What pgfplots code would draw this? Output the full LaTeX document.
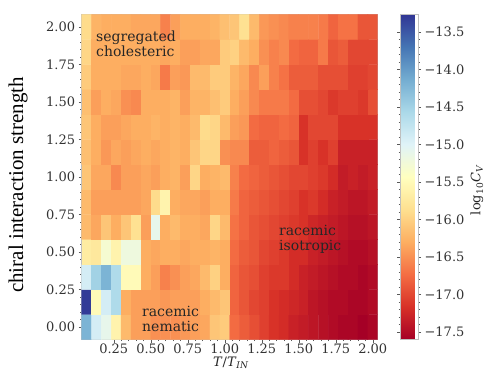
\documentclass[border=0pt]{standalone}
\usepackage{pgfplots}
\pgfplotsset{compat=1.18}
\usepackage{fontspec}
\setmainfont{DejaVu Serif}
\newfontfamily\timesfont{Liberation Serif}
\pgfplotsset{colormap={rdylbu}{rgb255=(165,0,38) rgb255=(215,48,39) rgb255=(244,109,67) rgb255=(253,174,97) rgb255=(254,224,144) rgb255=(255,255,191) rgb255=(224,243,248) rgb255=(171,217,233) rgb255=(116,173,209) rgb255=(69,117,180) rgb255=(49,54,149)}}
\begin{document}
\begin{tikzpicture}[x=1pt,y=1pt]
\path (0,0) rectangle (485,370);
\begin{axis}[
  at={(81.7pt,30.5pt)}, anchor=south west,
  scale only axis, width=296pt, height=325pt,
  xmin=0.03333, xmax=2.03333, ymin=-0.08333, ymax=2.08333,
  xtick={0.25,0.5,0.75,1,1.25,1.5,1.75,2},
  xticklabels={0.25,0.50,0.75,1.00,1.25,1.50,1.75,2.00},
  ytick={0,0.25,0.5,0.75,1,1.25,1.5,1.75,2},
  yticklabels={0.00,0.25,0.50,0.75,1.00,1.25,1.50,1.75,2.00},
  minor x tick num=4, minor y tick num=4,
  tick align=outside, major tick length=3pt, minor tick length=1.5pt,
  tick style={gray!70!black, line width=0.4pt},
  axis line style={gray!50, line width=0.5pt},
  xtick pos=bottom, ytick pos=left,
  ticklabel style={font=\fontsize{13}{15}\selectfont, text=black!80},
  xticklabel style={yshift=2pt},
  colormap name=rdylbu,
  point meta min=-17.6, point meta max=-13.27,
  colorbar,
  colorbar style={
    at={(parent axis.north east)}, anchor=north west, xshift=13.8pt,
    scale only axis, width=18pt, height=325pt,
    ytick={-17.5,-17,-16.5,-16,-15.5,-15,-14.5,-14,-13.5},
    yticklabels={−17.5,−17.0,−16.5,−16.0,−15.5,−15.0,−14.5,−14.0,−13.5},
    yticklabel pos=right,
    tick align=outside, major tick length=3pt,
    minor y tick num=4, minor tick length=1.5pt,
    tick style={gray!70!black, line width=0.4pt},
    axis line style={gray!50},
    ticklabel style={font=\fontsize{13}{15}\selectfont, text=black!80},
  },
]
\addplot[matrix plot*, mesh/cols=30, point meta=explicit] table[row sep=\\, meta=z] {
x y z\\
0.0667 0 -14.2\\ 0.1333 0 -14.9\\ 0.2 0 -15.1\\ 0.2667 0 -15.6\\ 0.3333 0 -16.2\\ 0.4 0 -16.4\\ 0.4667 0 -16.4\\ 0.5333 0 -16.5\\ 0.6 0 -16.5\\ 0.6667 0 -16.5\\
0.7333 0 -16.45\\ 0.8 0 -16.4\\ 0.8667 0 -16.35\\ 0.9333 0 -16.1\\ 1.0 0 -16.05\\ 1.0667 0 -16.75\\ 1.1333 0 -16.85\\ 1.2 0 -16.95\\ 1.2667 0 -17.05\\ 1.3333 0 -17.15\\
1.4 0 -17.2\\ 1.4667 0 -17.3\\ 1.5333 0 -17.35\\ 1.6 0 -17.4\\ 1.6667 0 -17.45\\ 1.7333 0 -17.5\\ 1.8 0 -17.55\\ 1.8667 0 -17.55\\ 1.9333 0 -17.6\\ 2.0 0 -17.55\\
0.0667 0.1667 -13.3\\ 0.1333 0.1667 -15.5\\ 0.2 0.1667 -14.9\\ 0.2667 0.1667 -14.6\\ 0.3333 0.1667 -16.3\\ 0.4 0.1667 -16.4\\ 0.4667 0.1667 -16.4\\ 0.5333 0.1667 -16.4\\ 0.6 0.1667 -16.45\\ 0.6667 0.1667 -16.4\\
0.7333 0.1667 -16.4\\ 0.8 0.1667 -16.4\\ 0.8667 0.1667 -16.3\\ 0.9333 0.1667 -16.2\\ 1.0 0.1667 -16.1\\ 1.0667 0.1667 -16.8\\ 1.1333 0.1667 -16.9\\ 1.2 0.1667 -17.0\\ 1.2667 0.1667 -17.05\\ 1.3333 0.1667 -17.15\\
1.4 0.1667 -17.2\\ 1.4667 0.1667 -17.25\\ 1.5333 0.1667 -17.3\\ 1.6 0.1667 -17.4\\ 1.6667 0.1667 -17.45\\ 1.7333 0.1667 -17.5\\ 1.8 0.1667 -17.5\\ 1.8667 0.1667 -17.55\\ 1.9333 0.1667 -17.55\\ 2.0 0.1667 -17.5\\
0.0667 0.3333 -14.9\\ 0.1333 0.3333 -14.5\\ 0.2 0.3333 -14.2\\ 0.2667 0.3333 -14.6\\ 0.3333 0.3333 -15.5\\ 0.4 0.3333 -15.5\\ 0.4667 0.3333 -16.3\\ 0.5333 0.3333 -16.4\\ 0.6 0.3333 -16.6\\ 0.6667 0.3333 -16.5\\
0.7333 0.3333 -16.4\\ 0.8 0.3333 -16.35\\ 0.8667 0.3333 -16.2\\ 0.9333 0.3333 -16.0\\ 1.0 0.3333 -16.3\\ 1.0667 0.3333 -16.8\\ 1.1333 0.3333 -16.9\\ 1.2 0.3333 -16.95\\ 1.2667 0.3333 -17.05\\ 1.3333 0.3333 -17.1\\
1.4 0.3333 -17.1\\ 1.4667 0.3333 -17.2\\ 1.5333 0.3333 -17.3\\ 1.6 0.3333 -17.35\\ 1.6667 0.3333 -17.4\\ 1.7333 0.3333 -17.45\\ 1.8 0.3333 -17.5\\ 1.8667 0.3333 -17.5\\ 1.9333 0.3333 -17.55\\ 2.0 0.3333 -17.5\\
0.0667 0.5 -15.7\\ 0.1333 0.5 -15.75\\ 0.2 0.5 -15.3\\ 0.2667 0.5 -15.6\\ 0.3333 0.5 -15.2\\ 0.4 0.5 -15.2\\ 0.4667 0.5 -16.3\\ 0.5333 0.5 -16.35\\ 0.6 0.5 -16.3\\ 0.6667 0.5 -16.3\\
0.7333 0.5 -16.35\\ 0.8 0.5 -16.3\\ 0.8667 0.5 -16.3\\ 0.9333 0.5 -16.25\\ 1.0 0.5 -16.3\\ 1.0667 0.5 -16.75\\ 1.1333 0.5 -16.85\\ 1.2 0.5 -16.9\\ 1.2667 0.5 -17.0\\ 1.3333 0.5 -17.05\\
1.4 0.5 -17.1\\ 1.4667 0.5 -17.2\\ 1.5333 0.5 -17.2\\ 1.6 0.5 -17.3\\ 1.6667 0.5 -17.35\\ 1.7333 0.5 -17.4\\ 1.8 0.5 -17.45\\ 1.8667 0.5 -17.5\\ 1.9333 0.5 -17.5\\ 2.0 0.5 -17.45\\
0.0667 0.6667 -16.2\\ 0.1333 0.6667 -16.35\\ 0.2 0.6667 -16.1\\ 0.2667 0.6667 -16.3\\ 0.3333 0.6667 -16.1\\ 0.4 0.6667 -15.85\\ 0.4667 0.6667 -16.4\\ 0.5333 0.6667 -15.1\\ 0.6 0.6667 -16.3\\ 0.6667 0.6667 -16.2\\
0.7333 0.6667 -16.3\\ 0.8 0.6667 -16.3\\ 0.8667 0.6667 -16.35\\ 0.9333 0.6667 -15.95\\ 1.0 0.6667 -16.2\\ 1.0667 0.6667 -16.7\\ 1.1333 0.6667 -16.8\\ 1.2 0.6667 -16.9\\ 1.2667 0.6667 -16.95\\ 1.3333 0.6667 -17.0\\
1.4 0.6667 -17.05\\ 1.4667 0.6667 -17.1\\ 1.5333 0.6667 -17.15\\ 1.6 0.6667 -17.25\\ 1.6667 0.6667 -17.3\\ 1.7333 0.6667 -17.35\\ 1.8 0.6667 -17.4\\ 1.8667 0.6667 -17.45\\ 1.9333 0.6667 -17.45\\ 2.0 0.6667 -17.4\\
0.0667 0.8333 -16.2\\ 0.1333 0.8333 -16.4\\ 0.2 0.8333 -16.4\\ 0.2667 0.8333 -16.4\\ 0.3333 0.8333 -16.4\\ 0.4 0.8333 -16.4\\ 0.4667 0.8333 -16.35\\ 0.5333 0.8333 -15.9\\ 0.6 0.8333 -15.6\\ 0.6667 0.8333 -16.3\\
0.7333 0.8333 -16.35\\ 0.8 0.8333 -16.35\\ 0.8667 0.8333 -16.4\\ 0.9333 0.8333 -16.3\\ 1.0 0.8333 -16.3\\ 1.0667 0.8333 -16.65\\ 1.1333 0.8333 -16.8\\ 1.2 0.8333 -16.85\\ 1.2667 0.8333 -16.9\\ 1.3333 0.8333 -16.95\\
1.4 0.8333 -17.0\\ 1.4667 0.8333 -17.05\\ 1.5333 0.8333 -17.15\\ 1.6 0.8333 -17.1\\ 1.6667 0.8333 -17.2\\ 1.7333 0.8333 -17.3\\ 1.8 0.8333 -17.35\\ 1.8667 0.8333 -17.4\\ 1.9333 0.8333 -17.4\\ 2.0 0.8333 -17.35\\
0.0667 1.0 -16.1\\ 0.1333 1.0 -16.35\\ 0.2 1.0 -16.35\\ 0.2667 1.0 -16.55\\ 0.3333 1.0 -16.4\\ 0.4 1.0 -16.4\\ 0.4667 1.0 -16.35\\ 0.5333 1.0 -16.4\\ 0.6 1.0 -16.3\\ 0.6667 1.0 -16.25\\
0.7333 1.0 -16.4\\ 0.8 1.0 -15.95\\ 0.8667 1.0 -16.3\\ 0.9333 1.0 -16.25\\ 1.0 1.0 -16.2\\ 1.0667 1.0 -16.6\\ 1.1333 1.0 -16.75\\ 1.2 1.0 -16.8\\ 1.2667 1.0 -16.85\\ 1.3333 1.0 -16.9\\
1.4 1.0 -16.95\\ 1.4667 1.0 -17.0\\ 1.5333 1.0 -17.0\\ 1.6 1.0 -17.05\\ 1.6667 1.0 -17.1\\ 1.7333 1.0 -17.2\\ 1.8 1.0 -17.35\\ 1.8667 1.0 -17.3\\ 1.9333 1.0 -17.35\\ 2.0 1.0 -17.3\\
0.0667 1.1667 -16.15\\ 0.1333 1.1667 -16.3\\ 0.2 1.1667 -16.45\\ 0.2667 1.1667 -16.35\\ 0.3333 1.1667 -16.4\\ 0.4 1.1667 -16.35\\ 0.4667 1.1667 -16.3\\ 0.5333 1.1667 -16.35\\ 0.6 1.1667 -16.3\\ 0.6667 1.1667 -16.25\\
0.7333 1.1667 -16.3\\ 0.8 1.1667 -16.1\\ 0.8667 1.1667 -15.95\\ 0.9333 1.1667 -15.95\\ 1.0 1.1667 -16.5\\ 1.0667 1.1667 -16.55\\ 1.1333 1.1667 -16.55\\ 1.2 1.1667 -16.85\\ 1.2667 1.1667 -16.85\\ 1.3333 1.1667 -16.8\\
1.4 1.1667 -16.85\\ 1.4667 1.1667 -16.9\\ 1.5333 1.1667 -17.15\\ 1.6 1.1667 -17.05\\ 1.6667 1.1667 -17.15\\ 1.7333 1.1667 -17.05\\ 1.8 1.1667 -17.3\\ 1.8667 1.1667 -17.3\\ 1.9333 1.1667 -17.3\\ 2.0 1.1667 -17.3\\
0.0667 1.3333 -16.1\\ 0.1333 1.3333 -16.3\\ 0.2 1.3333 -16.4\\ 0.2667 1.3333 -16.4\\ 0.3333 1.3333 -16.35\\ 0.4 1.3333 -16.3\\ 0.4667 1.3333 -16.3\\ 0.5333 1.3333 -16.25\\ 0.6 1.3333 -16.3\\ 0.6667 1.3333 -16.25\\
0.7333 1.3333 -16.3\\ 0.8 1.3333 -16.2\\ 0.8667 1.3333 -15.9\\ 0.9333 1.3333 -15.95\\ 1.0 1.3333 -16.2\\ 1.0667 1.3333 -16.4\\ 1.1333 1.3333 -16.45\\ 1.2 1.3333 -16.75\\ 1.2667 1.3333 -16.8\\ 1.3333 1.3333 -16.8\\
1.4 1.3333 -16.75\\ 1.4667 1.3333 -16.8\\ 1.5333 1.3333 -17.15\\ 1.6 1.3333 -17.0\\ 1.6667 1.3333 -17.0\\ 1.7333 1.3333 -17.0\\ 1.8 1.3333 -17.15\\ 1.8667 1.3333 -17.15\\ 1.9333 1.3333 -17.15\\ 2.0 1.3333 -17.15\\
0.0667 1.5 -16.15\\ 0.1333 1.5 -16.4\\ 0.2 1.5 -16.3\\ 0.2667 1.5 -16.35\\ 0.3333 1.5 -16.5\\ 0.4 1.5 -16.55\\ 0.4667 1.5 -16.3\\ 0.5333 1.5 -16.3\\ 0.6 1.5 -16.3\\ 0.6667 1.5 -16.25\\
0.7333 1.5 -16.4\\ 0.8 1.5 -16.25\\ 0.8667 1.5 -16.25\\ 0.9333 1.5 -16.15\\ 1.0 1.5 -16.05\\ 1.0667 1.5 -16.3\\ 1.1333 1.5 -16.4\\ 1.2 1.5 -16.55\\ 1.2667 1.5 -16.65\\ 1.3333 1.5 -16.65\\
1.4 1.5 -16.65\\ 1.4667 1.5 -16.75\\ 1.5333 1.5 -16.95\\ 1.6 1.5 -16.95\\ 1.6667 1.5 -17.0\\ 1.7333 1.5 -17.1\\ 1.8 1.5 -17.05\\ 1.8667 1.5 -17.05\\ 1.9333 1.5 -17.1\\ 2.0 1.5 -16.95\\
0.0667 1.6667 -16.05\\ 0.1333 1.6667 -16.3\\ 0.2 1.6667 -16.3\\ 0.2667 1.6667 -16.3\\ 0.3333 1.6667 -16.35\\ 0.4 1.6667 -16.35\\ 0.4667 1.6667 -16.3\\ 0.5333 1.6667 -16.35\\ 0.6 1.6667 -16.65\\ 0.6667 1.6667 -16.4\\
0.7333 1.6667 -16.45\\ 0.8 1.6667 -16.2\\ 0.8667 1.6667 -16.2\\ 0.9333 1.6667 -16.05\\ 1.0 1.6667 -16.05\\ 1.0667 1.6667 -16.25\\ 1.1333 1.6667 -16.35\\ 1.2 1.6667 -16.55\\ 1.2667 1.6667 -16.4\\ 1.3333 1.6667 -16.6\\
1.4 1.6667 -16.7\\ 1.4667 1.6667 -16.85\\ 1.5333 1.6667 -16.85\\ 1.6 1.6667 -16.85\\ 1.6667 1.6667 -16.95\\ 1.7333 1.6667 -16.95\\ 1.8 1.6667 -16.95\\ 1.8667 1.6667 -17.05\\ 1.9333 1.6667 -17.05\\ 2.0 1.6667 -17.0\\
0.0667 1.8333 -15.95\\ 0.1333 1.8333 -16.3\\ 0.2 1.8333 -16.3\\ 0.2667 1.8333 -16.3\\ 0.3333 1.8333 -16.3\\ 0.4 1.8333 -16.3\\ 0.4667 1.8333 -16.3\\ 0.5333 1.8333 -16.3\\ 0.6 1.8333 -16.35\\ 0.6667 1.8333 -16.3\\
0.7333 1.8333 -16.4\\ 0.8 1.8333 -16.4\\ 0.8667 1.8333 -16.35\\ 0.9333 1.8333 -16.35\\ 1.0 1.8333 -16.05\\ 1.0667 1.8333 -16.0\\ 1.1333 1.8333 -16.2\\ 1.2 1.8333 -16.3\\ 1.2667 1.8333 -16.5\\ 1.3333 1.8333 -16.6\\
1.4 1.8333 -16.55\\ 1.4667 1.8333 -16.75\\ 1.5333 1.8333 -16.8\\ 1.6 1.8333 -16.8\\ 1.6667 1.8333 -16.65\\ 1.7333 1.8333 -16.9\\ 1.8 1.8333 -16.85\\ 1.8667 1.8333 -17.0\\ 1.9333 1.8333 -17.0\\ 2.0 1.8333 -17.0\\
0.0667 2.0 -15.9\\ 0.1333 2.0 -16.25\\ 0.2 2.0 -16.3\\ 0.2667 2.0 -16.3\\ 0.3333 2.0 -16.3\\ 0.4 2.0 -16.35\\ 0.4667 2.0 -16.35\\ 0.5333 2.0 -16.35\\ 0.6 2.0 -16.6\\ 0.6667 2.0 -16.4\\
0.7333 2.0 -16.3\\ 0.8 2.0 -16.3\\ 0.8667 2.0 -16.3\\ 0.9333 2.0 -16.25\\ 1.0 2.0 -16.15\\ 1.0667 2.0 -16.1\\ 1.1333 2.0 -15.85\\ 1.2 2.0 -16.2\\ 1.2667 2.0 -16.45\\ 1.3333 2.0 -16.5\\
1.4 2.0 -16.55\\ 1.4667 2.0 -16.6\\ 1.5333 2.0 -16.6\\ 1.6 2.0 -16.6\\ 1.6667 2.0 -16.65\\ 1.7333 2.0 -16.8\\ 1.8 2.0 -16.7\\ 1.8667 2.0 -16.7\\ 1.9333 2.0 -16.9\\ 2.0 2.0 -16.9\\
};
\end{axis}
\node[anchor=west, align=left, inner sep=0pt, font=\fontsize{14}{15}\selectfont, text=black!85] at (96,326) {segregated\\cholesteric};
\node[anchor=west, align=left, inner sep=0pt, font=\fontsize{14}{15}\selectfont, text=black!85] at (279,131) {racemic\\isotropic};
\node[anchor=west, align=left, inner sep=0pt, font=\fontsize{14}{15}\selectfont, text=black!85] at (142,51) {racemic\\nematic};
\node[rotate=90, inner sep=0pt, font=\timesfont\fontsize{21}{24}\selectfont] at (18,185) {chiral interaction strength};
\node[inner sep=0pt, font=\fontsize{13}{15}\selectfont, text=black!85] at (231,7) {\textit{T}/\textit{T}\textsubscript{\textit{IN}}};
\node[rotate=90, inner sep=0pt, font=\fontsize{13}{15}\selectfont, text=black!85] at (477,180) {log\textsubscript{10}\textit{C}\textsubscript{\textit{V}}};
\end{tikzpicture}
\end{document}
